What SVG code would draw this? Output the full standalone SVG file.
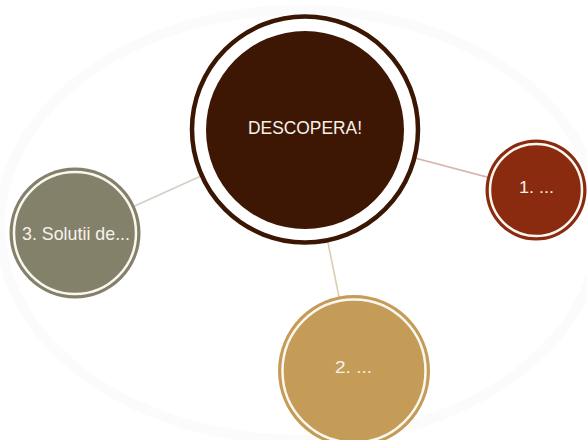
<svg xmlns="http://www.w3.org/2000/svg" width="587" height="440" viewBox="0 0 587 440">
<style>
.lbl{font-family:"Liberation Sans",Arial,sans-serif;fill:#f7f2ea;text-anchor:middle}
.ring{fill:none;stroke:#fbf7f0;stroke-width:2.5}
.conn{stroke-width:1.6;fill:none}
</style>
<rect width="587" height="440" fill="#ffffff"/>
<ellipse cx="300" cy="225" rx="300" ry="215" fill="none" stroke="#f7f7f7" stroke-width="10" opacity="0.5"/>
<g id="connectors">
<line class="conn" x1="305" y1="129" x2="536" y2="190" stroke="#d6b5ad"/>
<line class="conn" x1="305" y1="129" x2="354" y2="371" stroke="#dccdb0"/>
<line class="conn" x1="305" y1="129" x2="75" y2="233" stroke="#d2cfc5"/>
</g>
<g id="node-center">
<circle cx="305" cy="129.5" r="113" fill="#ffffff" stroke="#3b1603" stroke-width="4.5"/>
<circle cx="305" cy="130" r="99" fill="#3d1703"/>
<text class="lbl" x="305" y="134" font-size="18" textLength="114" lengthAdjust="spacingAndGlyphs">DESCOPERA!</text>
</g>
<g id="node-1">
<circle cx="536" cy="190" r="50.5" fill="#8a2a0f"/>
<circle class="ring" cx="536" cy="190" r="46"/>
<text class="lbl" x="536.5" y="193" font-size="17" textLength="35" lengthAdjust="spacingAndGlyphs">1. ...</text>
</g>
<g id="node-2">
<circle cx="354" cy="371" r="76" fill="#c49c58"/>
<circle class="ring" cx="354" cy="371" r="71.5"/>
<text class="lbl" x="353.5" y="373" font-size="17" textLength="37" lengthAdjust="spacingAndGlyphs">2. ...</text>
</g>
<g id="node-3">
<circle cx="75" cy="233" r="65.5" fill="#84816a"/>
<circle class="ring" cx="75" cy="233" r="61"/>
<text class="lbl" x="76" y="240" font-size="19" textLength="108" lengthAdjust="spacingAndGlyphs">3. Solutii de...</text>
</g>
</svg>
